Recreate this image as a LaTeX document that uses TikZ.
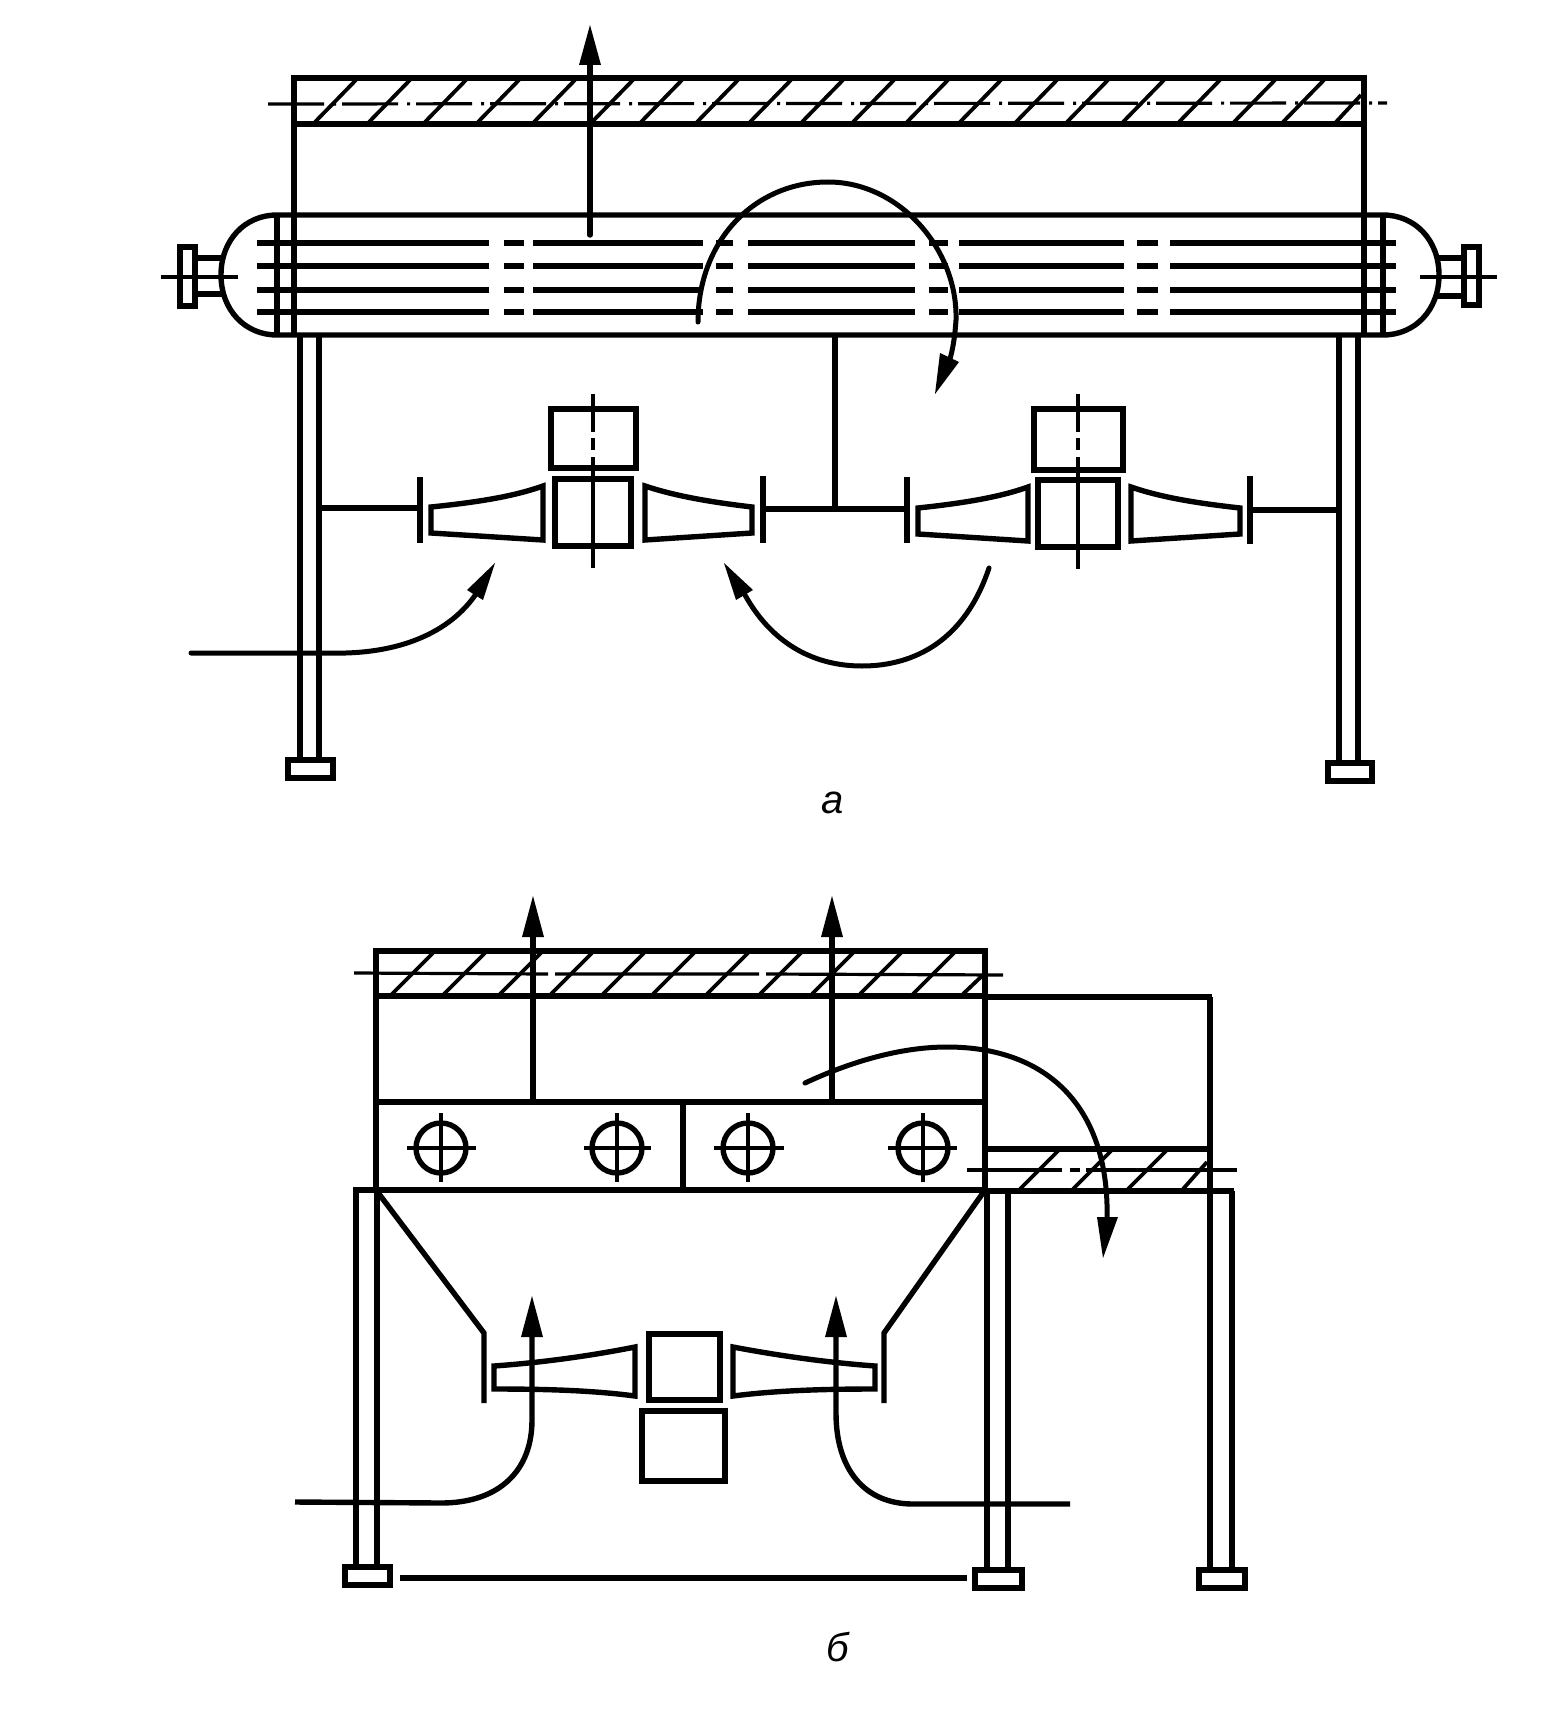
\documentclass[tikz,border=0pt]{standalone}
\usepackage{fontspec}
\setmainfont{Liberation Sans}
\begin{document}
\begin{tikzpicture}[x=1pt,y=-1pt,
  main/.style={draw=black,line width=5.4pt,line join=miter},
  axis/.style={draw=black,line width=3.2pt},
  tube/.style={draw=black,line width=6.4pt},
  hatch/.style={draw=black,line width=3.8pt},
  flow/.style={draw=black,line width=5pt,line cap=round},
  head/.style={fill=black,draw=none},
  lab/.style={font=\fontsize{40}{42}\selectfont\itshape,inner sep=0pt}]
\useasboundingbox (0,0) rectangle (1561,1728);
\fill[white] (0,0) rectangle (1561,1728);

%% ===== a: top bundle
\draw[main] (294,335) -- (294,78) -- (1364,78) -- (1364,335);
\draw[main] (294,124) -- (1364,124);
\foreach \b in {315,369,425,478,534,592,641,697,750,802,853,907,960,1016,1067,1123,1179,1234,1283}
  \draw[hatch] (\b,122) -- ({\b+41},80);
\draw[hatch] (1336,122) -- (1361,95);
\draw[axis,dash pattern=on 56pt off 9pt on 3pt off 6pt] (268,104) -- (1387,103);
%% exhaust arrow
\draw[main,line cap=round] (590,235) -- (590,60);
\fill[head] (590,25) -- (601,65) -- (579,65) -- cycle;

%% shell
\draw[main] (221,275) .. controls (221,240) and (245,215) .. (277,215) -- (1383,215)
  .. controls (1415,215) and (1439,240) .. (1439,275)
  .. controls (1439,310) and (1415,335) .. (1383,335) -- (277,335)
  .. controls (245,335) and (221,310) .. cycle;
\draw[main] (277,215) -- (277,335) (1383,215) -- (1383,335);
\foreach \y in {243,266,290,312}{
  \foreach \p/\q in {257/489,504/524,533/703,716/733,748/915,929/948,959/1124,1137/1158,1170/1396}
    \draw[tube] (\p,\y) -- (\q,\y);
}
%% left flange
\draw[main] (180,247) rectangle (195,306);
\draw[main] (195,258) -- (222,258) (195,294) -- (222,294);
\draw[axis] (161,277) -- (238,277);
%% right flange
\draw[main] (1464,247) rectangle (1479,305);
\draw[main] (1438,258) -- (1464,258) (1438,296) -- (1464,296);
\draw[axis] (1420,277) -- (1497,277);

%% legs a
\draw[main] (300,335) -- (300,759) (319,335) -- (319,759);
\draw[main] (288,760) rectangle (333,778);
\draw[main] (1339,335) -- (1339,762) (1358,335) -- (1358,762);
\draw[main] (1328,763) rectangle (1372,781);
%% centre post and struts
\draw[main] (835,335) -- (835,508);
\draw[main] (319,508) -- (420,508);
\draw[main] (763,509) -- (907,509);
\draw[main] (1250,510) -- (1339,510);
\draw[main] (420,477) -- (420,543) (763,476) -- (763,543);
\draw[main] (907,477) -- (907,543) (1250,476) -- (1250,544);

%% fan unit left a
\draw[main] (551,409) rectangle (636,468);
\draw[main] (555,479) rectangle (631,546);
\draw[axis] (593,394) -- (593,432) (593,438) -- (593,450) (593,457) -- (593,568);
\draw[main] (431,507) .. controls (480,502) and (515,496) .. (543,486) -- (543,540) -- (431,533) -- cycle;
\draw[main] (645,486) .. controls (675,496) and (710,502) .. (752,507) -- (752,533) -- (645,540) -- cycle;
%% fan unit right a
\draw[main] (1034,409) rectangle (1123,470);
\draw[main] (1038,480) rectangle (1118,547);
\draw[axis] (1078,394) -- (1078,432) (1078,438) -- (1078,450) (1078,457) -- (1078,569);
\draw[main] (918,508) .. controls (965,503) and (1000,497) .. (1028,487) -- (1028,541) -- (918,534) -- cycle;
\draw[main] (1131,487) .. controls (1160,497) and (1195,503) .. (1240,508) -- (1240,534) -- (1131,541) -- cycle;

%% flow arrows a
\draw[flow] (698,322) .. controls (698,240) and (755,182) .. (828,182)
  .. controls (900,182) and (958,250) .. (956,320) .. controls (955,335) and (953,350) .. (949,362);
\fill[head] (935,394) -- (959,362) -- (940,353) -- cycle;
\draw[flow] (191,653) -- (329,653) .. controls (400,655) and (450,632) .. (476,594);
\fill[head] (495,563) -- (483,600) -- (467,590) -- cycle;
\draw[flow] (989,568) .. controls (965,640) and (915,666) .. (862,666)
  .. controls (810,666) and (770,640) .. (745,595);
\fill[head] (724,563) -- (753,590) -- (736,600) -- cycle;
\node[lab] (la) at (833,803) {а};

%% ===== b: top bundle
\draw[main] (376,1190) -- (376,951) -- (985,951) -- (985,1190);
\draw[main] (376,996) -- (985,996);
\foreach \b in {392,444,500,551,603,653,707,760,812,860,913}
  \draw[hatch] (\b,994) -- ({\b+41},953);
\draw[hatch] (963,994) -- (983,975);
\draw[axis] (354,973) -- (548,974) (555,974) -- (759,974) (766,974) -- (1003,975);
%% exhausts
\draw[main] (533,1102) -- (533,930);
\fill[head] (533,896) -- (544,937) -- (522,937) -- cycle;
\draw[main] (832,1102) -- (832,930);
\fill[head] (832,896) -- (843,937) -- (821,937) -- cycle;
%% header
\draw[main] (376,1102) -- (985,1102);
\draw[main] (353,1190) -- (985,1190);
\draw[main] (683,1102) -- (683,1190);
\foreach \cx/\lo/\hi in {441/407/476,617/584/651,748/714/784,923/888/957}{
  \draw[main] (\cx,1148) circle[radius=25];
  \draw[axis,line width=3.8pt] (\lo,1148) -- (\hi,1148) (\cx,1113) -- (\cx,1182);
}
%% legs b
\draw[main] (356,1188) -- (356,1566) (377,1190) -- (377,1566);
\draw[main] (345,1567) rectangle (390,1585);
\draw[main] (987,1190) -- (987,1569) (1008,1191) -- (1008,1569);
\draw[main] (975,1570) rectangle (1022,1588);
\draw[main] (1210,997) -- (1210,1569) (1232,1191) -- (1232,1569);
\draw[main] (1199,1570) rectangle (1245,1588);
\draw[main] (400,1578) -- (967,1578);
%% side bundle
\draw[main] (985,997) -- (1212,997);
\draw[main] (985,1149) -- (1210,1149);
\draw[main] (985,1191) -- (1234,1191);
\foreach \b in {1020,1073,1128}
  \draw[hatch] (\b,1189) -- ({\b+38},1151);
\draw[hatch] (1183,1189) -- (1207,1162);
\draw[axis] (967,1170) -- (1062,1170) (1070,1170) -- (1080,1170) (1086,1170) -- (1237,1170);
%% hoppers
\draw[main] (376,1190) -- (484,1333) -- (484,1403);
\draw[main] (985,1190) -- (884,1333) -- (884,1403);
%% fan b
\draw[main] (649,1334) rectangle (720,1400);
\draw[main] (642,1411) rectangle (725,1481);
\draw[main] (494,1366) .. controls (550,1362) and (600,1354) .. (635,1347) -- (635,1396) .. controls (590,1390) and (540,1389) .. (494,1389) -- cycle;
\draw[main] (733,1347) .. controls (770,1354) and (820,1362) .. (875,1366) -- (875,1389) .. controls (830,1389) and (780,1390) .. (733,1396) -- cycle;
%% flow b
\draw[main] (532,1330) -- (532,1420) .. controls (532,1470) and (500,1503) .. (441,1503) -- (295,1502);
\fill[head] (532,1296) -- (543,1337) -- (521,1337) -- cycle;
\draw[main] (836,1330) -- (836,1413) .. controls (836,1470) and (865,1504) .. (913,1504) -- (1070,1504);
\fill[head] (836,1296) -- (847,1337) -- (825,1337) -- cycle;
\draw[flow] (805,1083) .. controls (850,1062) and (900,1047) .. (947,1047)
  .. controls (1050,1047) and (1110,1110) .. (1107,1220);
\fill[head] (1103,1258) -- (1118,1217) -- (1097,1217) -- cycle;
\node[lab] (lb) at (838,1647) {б};
\end{tikzpicture}
\end{document}
